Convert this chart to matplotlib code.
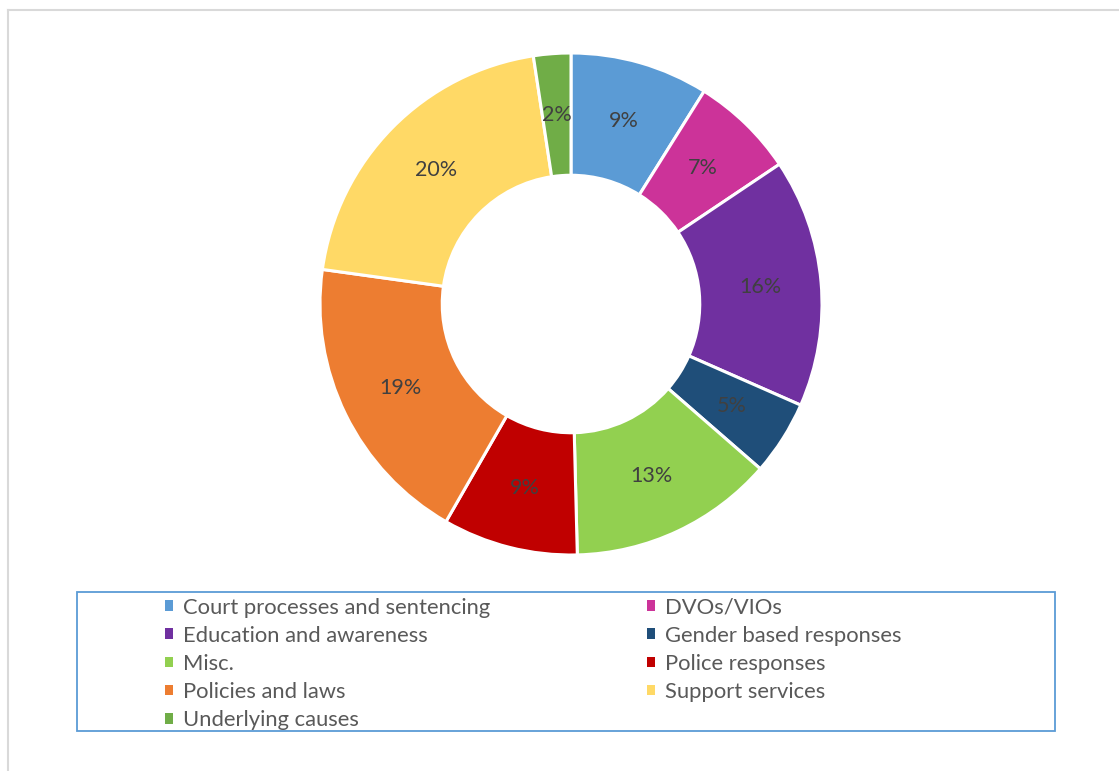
import matplotlib.pyplot as plt
from matplotlib.patches import Patch, Rectangle
from matplotlib.lines import Line2D

categories = ['Court processes and sentencing', 'DVOs/VIOs', 'Education and awareness',
              'Gender based responses', 'Misc.', 'Police responses', 'Policies and laws',
              'Support services', 'Underlying causes']
shares = [8.9, 6.7, 16.0, 4.8, 13.2, 8.7, 18.9, 20.4, 2.4]
colors = ['#5B9BD5', '#CC3399', '#7030A0', '#1F4E79', '#92D050', '#C00000',
          '#ED7D31', '#FFD966', '#70AD47']

plt.rcParams['font.family'] = ['Lato', 'DejaVu Sans']

W, H = 1119, 771
fig = plt.figure(figsize=(W / 100, H / 100), dpi=100)

# outer frame (only top and left edges visible)
fig.add_artist(Line2D([8 / W, 1], [1 - 10 / H, 1 - 10 / H], color='#D9D9D9', lw=1.5))
fig.add_artist(Line2D([8 / W, 8 / W], [0, 1 - 10 / H], color='#D9D9D9', lw=1.5))

cx, cy, r = 571, 304, 251
ax = fig.add_axes([(cx - r) / W, (H - cy - r) / H, 2 * r / W, 2 * r / H])
wedges, texts, autotexts = ax.pie(
    shares, colors=colors, startangle=90, counterclock=False, radius=1,
    autopct='%.0f%%', pctdistance=0.757,
    wedgeprops=dict(width=0.487, edgecolor='white', linewidth=2.2),
    textprops=dict(color='#404040', fontsize=15.5))
ax.set_xlim(-1, 1)
ax.set_ylim(-1, 1)
ax.axis('off')

# legend box
fig.add_artist(Rectangle((77 / W, 1 - 731 / H), (1055 - 77) / W, (731 - 592) / H,
                         transform=fig.transFigure, fill=False,
                         edgecolor='#5B9BD5', lw=1.3))

order = [0, 2, 4, 6, 8, 1, 3, 5, 7]
handles = [Patch(facecolor=colors[i], edgecolor='none') for i in order]
labels = [categories[i] for i in order]
fig.legend(handles, labels, ncol=2, frameon=False, loc='upper left',
           bbox_to_anchor=(147 / W, 1 - 580 / H), fontsize=15.8,
           handlelength=0.38, handleheight=0.38, handletextpad=0.45,
           columnspacing=7.15, labelspacing=0.37, borderpad=0.3,
           labelcolor='#595959')

fig.savefig('out.png', dpi=100)
